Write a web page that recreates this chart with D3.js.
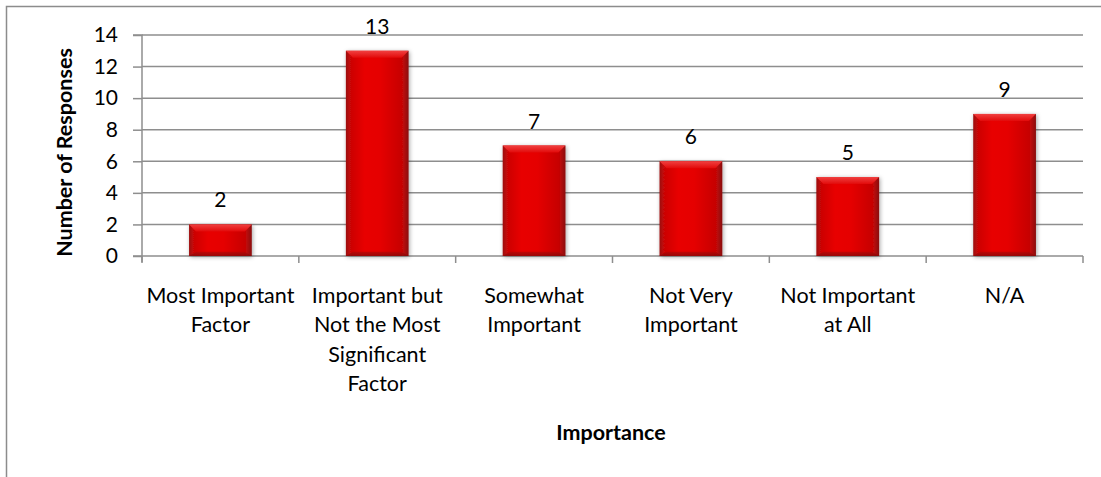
<!DOCTYPE html>
<html><head><meta charset="utf-8">
<script src="https://cdn.jsdelivr.net/npm/d3@7"></script>
<style>
body{margin:0;background:#fff;}
svg{display:block;font-family:Lato,"Open Sans","Noto Sans",sans-serif;}
</style></head>
<body>
<script>
const categories = [
  ["Most Important", "Factor"],
  ["Important but", "Not the Most", "Significant", "Factor"],
  ["Somewhat", "Important"],
  ["Not Very", "Important"],
  ["Not Important", "at All"],
  ["N/A"]
];
const values = [2, 13, 7, 6, 5, 9];
const yTicks = [0, 2, 4, 6, 8, 10, 12, 14];
const yTitle = "Number of Responses";
const xTitle = "Importance";

(function(){
const W = 1101, H = 477;
const svg = d3.select("body").append("svg").attr("width", W).attr("height", H);

const defs = svg.append("defs");
const g1 = defs.append("linearGradient").attr("id","barH").attr("x1","0").attr("x2","1").attr("y1","0").attr("y2","0");
[[0,"#9c0a0a"],[0.08,"#cc0606"],[0.3,"#e80404"],[0.55,"#e50202"],[0.9,"#c60606"],[1,"#8a0c0c"]].forEach(s=>g1.append("stop").attr("offset",s[0]).attr("stop-color",s[1]));
const g2 = defs.append("linearGradient").attr("id","barTop").attr("x1","0").attr("x2","0").attr("y1","0").attr("y2","1");
[[0,"#f04040"],[1,"#e20a0a"]].forEach(s=>g2.append("stop").attr("offset",s[0]).attr("stop-color",s[1]));
const g3 = defs.append("linearGradient").attr("id","barBot").attr("x1","0").attr("x2","0").attr("y1","0").attr("y2","1");
[[0,"#b00808"],[1,"#7a0a0a"]].forEach(s=>g3.append("stop").attr("offset",s[0]).attr("stop-color",s[1]));
const flt = defs.append("filter").attr("id","sh").attr("x","-20%").attr("y","-20%").attr("width","140%").attr("height","140%");
flt.append("feDropShadow").attr("dx",1).attr("dy",1).attr("stdDeviation",2).attr("flood-color","#000").attr("flood-opacity",0.35);

// outer frame
svg.append("path").attr("d", `M6.5,${H} L6.5,6.5 L${W},6.5`).attr("fill","none").attr("stroke","#8c8c8c").attr("stroke-width",1.5);

const pl = 142, pr = 1083, pt = 35, pb = 256;
const x = d3.scaleBand().domain(d3.range(values.length)).range([pl, pr]).paddingInner(0.6).paddingOuter(0.3);
const y = d3.scaleLinear().domain([0, 14]).range([pb, pt]);

// gridlines
svg.append("g").selectAll("line").data(yTicks.filter(d=>d>0)).join("line")
  .attr("x1", pl).attr("x2", pr).attr("y1", d=>y(d)).attr("y2", d=>y(d))
  .attr("stroke","#8e8e8e").attr("stroke-width",1.5);

// y axis
const ya = svg.append("g").attr("transform",`translate(${pl},0)`)
  .call(d3.axisLeft(y).tickValues(yTicks).tickSize(9).tickPadding(15));
ya.select(".domain").attr("stroke","#8e8e8e").attr("stroke-width",1.5).attr("d",`M-9,${y(14)}H0V${pb+6}`);
ya.selectAll(".tick line").attr("stroke","#8e8e8e").attr("stroke-width",1.5);
ya.selectAll(".tick text").attr("font-size",21).attr("fill","#000").attr("font-family","Lato,'Open Sans',sans-serif");

// x axis line and ticks
const xa = svg.append("g");
xa.append("line").attr("x1",pl-9).attr("x2",pr).attr("y1",pb).attr("y2",pb).attr("stroke","#8e8e8e").attr("stroke-width",1.5);
const bounds = d3.range(values.length+1).map(i => pl + i*x.step());
xa.selectAll("line.t").data(bounds).join("line").attr("class","t")
  .attr("x1",d=>d).attr("x2",d=>d).attr("y1",pb).attr("y2",pb+7)
  .attr("stroke","#8e8e8e").attr("stroke-width",1.5);

// bars
const bars = svg.append("g").selectAll("g").data(values).join("g");
bars.append("rect").attr("x",(d,i)=>x(i)).attr("y",d=>y(d)).attr("width",x.bandwidth()).attr("height",d=>pb-y(d))
  .attr("fill","url(#barH)").attr("filter","url(#sh)");
const bev = 7;
bars.append("path").attr("d",(d,i)=>{const x0=x(i),x1=x0+x.bandwidth(),y0=y(d);
  return `M${x0},${y0}H${x1}L${x1-bev},${y0+bev}H${x0+bev}Z`;}).attr("fill","url(#barTop)");
bars.append("path").attr("d",(d,i)=>{const x0=x(i),x1=x0+x.bandwidth(),y1=pb;
  return `M${x0},${y1}H${x1}L${x1-bev},${y1-bev*0.6}H${x0+bev}Z`;}).attr("fill","url(#barBot)").attr("opacity",0.7);

// value labels
svg.append("g").selectAll("text").data(values).join("text")
  .attr("x",(d,i)=>x(i)+x.bandwidth()/2).attr("y",d=>y(d)-17)
  .attr("text-anchor","middle").attr("font-size",21).attr("fill","#000").text(d=>d);

// category labels
const cl = svg.append("g").selectAll("text").data(categories).join("text")
  .attr("x",(d,i)=>x(i)+x.bandwidth()/2).attr("y",303)
  .attr("text-anchor","middle").attr("font-size",21.5).attr("fill","#000");
cl.selectAll("tspan").data(d=>d).join("tspan")
  .attr("x",function(){return d3.select(this.parentNode).attr("x");})
  .attr("dy",(d,i)=>i===0?0:29.3).text(d=>d);

// axis titles
svg.append("text").attr("transform",`translate(72,${(pt+pb)/2+7}) rotate(-90)`)
  .attr("text-anchor","middle").attr("font-size",21.5).attr("font-weight","bold").text(yTitle);
svg.append("text").attr("x",611).attr("y",440)
  .attr("text-anchor","middle").attr("font-size",21.5).attr("font-weight","bold").text(xTitle);
})();
</script>
</body></html>
